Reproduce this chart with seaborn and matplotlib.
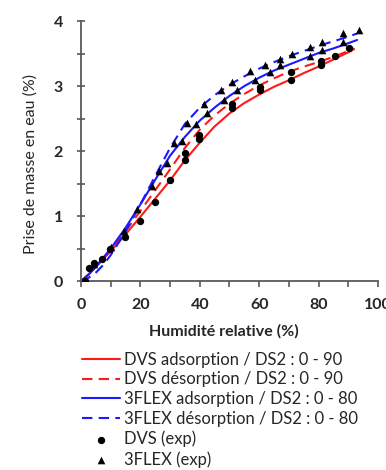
import numpy as np
import pandas as pd
import matplotlib
matplotlib.use("Agg")
import matplotlib.pyplot as plt
from matplotlib.ticker import MultipleLocator
import seaborn as sns

# model curves
rh_dvs = [0, 2.5, 5, 7.5, 10, 15, 20, 25, 30, 35, 40, 45, 50, 55, 60, 65, 70, 75, 80, 85, 90, 92]
dvs_ads = [0, 0.10, 0.22, 0.34, 0.46, 0.72, 0.99, 1.27, 1.55, 1.86, 2.13, 2.38, 2.58, 2.74, 2.87, 2.99,
           3.09, 3.20, 3.30, 3.41, 3.52, 3.57]
dvs_des = [0, 0.10, 0.22, 0.35, 0.48, 0.77, 1.08, 1.40, 1.72, 2.05, 2.33, 2.55, 2.73, 2.88, 3.01, 3.12,
           3.22, 3.30, 3.37, 3.45, 3.54, 3.58]

rh_flex = [0, 2.5, 5, 7.5, 10, 15, 20, 25, 30, 35, 40, 45, 50, 55, 60, 65, 70, 75, 80, 85, 90, 93]
flex_ads = [0, 0.10, 0.22, 0.36, 0.50, 0.82, 1.18, 1.56, 1.93, 2.22, 2.47, 2.67, 2.85, 3.00, 3.13, 3.24,
            3.33, 3.42, 3.51, 3.58, 3.66, 3.71]
flex_des = [0, 0.05, 0.13, 0.25, 0.40, 0.76, 1.18, 1.62, 2.05, 2.42, 2.67, 2.86, 3.02, 3.15, 3.27, 3.37,
            3.46, 3.54, 3.62, 3.69, 3.76, 3.81]

# experimental points
dvs_x = [1.3, 2.8, 4.5, 6.9, 9.8, 14.9, 19.9, 24.9, 30.0, 34.9, 34.9, 39.9, 39.9, 51.0, 51.0,
         60.4, 60.4, 70.8, 70.8, 80.8, 80.8, 85.6, 90.4]
dvs_y = [0.0, 0.20, 0.28, 0.34, 0.50, 0.68, 0.92, 1.21, 1.56, 1.87, 1.97, 2.18, 2.25, 2.66, 2.72,
         2.94, 2.99, 3.10, 3.22, 3.32, 3.39, 3.46, 3.59]
flex_x = [4.5, 10.0, 14.3, 19.0, 24.0, 26.3, 29.0, 31.3, 34.0, 35.8, 38.8, 41.4, 42.5, 47.0, 48.1,
          50.9, 52.6, 57.0, 58.7, 61.9, 63.8, 67.1, 67.1, 71.0, 77.2, 77.2, 81.1, 81.1, 88.4, 88.4, 93.7]
flex_y = [0.27, 0.52, 0.77, 1.11, 1.47, 1.69, 1.82, 2.12, 2.15, 2.44, 2.42, 2.73, 2.58, 2.94, 2.78,
          3.07, 2.94, 3.23, 3.09, 3.33, 3.22, 3.42, 3.32, 3.50, 3.60, 3.47, 3.68, 3.55, 3.81, 3.68, 3.87]

sns.set_style("ticks")
plt.rcParams['font.family'] = ['Lato', 'DejaVu Sans']

fig = plt.figure(figsize=(3.86, 4.70), dpi=100)
ax = fig.add_axes([0.21, 0.402, 0.769, 0.553])

lw = 1.5
dash = (0, (5, 3))
sns.lineplot(x=rh_dvs, y=dvs_ads, color="#ff1a1a", linewidth=lw, ax=ax,
             label="DVS adsorption / DS2 : 0 - 90")
sns.lineplot(x=rh_dvs, y=dvs_des, color="#ff1a1a", linewidth=lw, linestyle=dash, ax=ax,
             label="DVS désorption / DS2 : 0 - 90")
sns.lineplot(x=rh_flex, y=flex_ads, color="#1a1aff", linewidth=lw, ax=ax,
             label="3FLEX adsorption / DS2 : 0 - 80")
sns.lineplot(x=rh_flex, y=flex_des, color="#1a1aff", linewidth=lw, linestyle=dash, ax=ax,
             label="3FLEX désorption / DS2 : 0 - 80")
sns.scatterplot(x=dvs_x, y=dvs_y, marker="o", color="black", s=28, linewidth=0, ax=ax,
                label="DVS (exp)", zorder=3)
sns.scatterplot(x=flex_x, y=flex_y, marker="^", color="black", s=30, linewidth=0, ax=ax,
                label="3FLEX (exp)", zorder=3)

ax.set_xlim(0, 100)
ax.set_ylim(0, 4)
ax.xaxis.set_major_locator(MultipleLocator(20))
ax.xaxis.set_minor_locator(MultipleLocator(10))
ax.yaxis.set_major_locator(MultipleLocator(1))
ax.yaxis.set_minor_locator(MultipleLocator(0.5))
sns.despine(ax=ax)
for s in ("left", "bottom"):
    ax.spines[s].set_color("#595959")
    ax.spines[s].set_linewidth(1.3)
ax.tick_params(which="both", color="#595959", width=1.2, length=4.5, labelsize=11.5)
ax.tick_params(axis="y", which="both", direction="inout", length=6, pad=10)
ax.tick_params(axis="x", which="both", pad=8)
for t in ax.get_xticklabels() + ax.get_yticklabels():
    t.set_fontweight("bold")
ax.set_xticklabels([str(int(v)) for v in ax.get_xticks()], fontweight="bold")

ax.set_xlabel("Humidité relative (%)", fontsize=11.5, fontweight="bold")
ax.xaxis.set_label_coords(0.48, -0.165)
ax.set_ylabel("Prise de masse en eau (%)", fontsize=11.5)
ax.yaxis.set_label_coords(-0.145, 0.45)

handles, labels = ax.get_legend_handles_labels()
ax.legend(handles, labels, loc="upper left", bbox_to_anchor=(0.212, 0.252),
          bbox_transform=fig.transFigure, frameon=False, fontsize=12,
          handlelength=2.3, handletextpad=0.25, labelspacing=0.23, borderpad=0,
          borderaxespad=0)

fig.savefig("out.png", dpi=100)
